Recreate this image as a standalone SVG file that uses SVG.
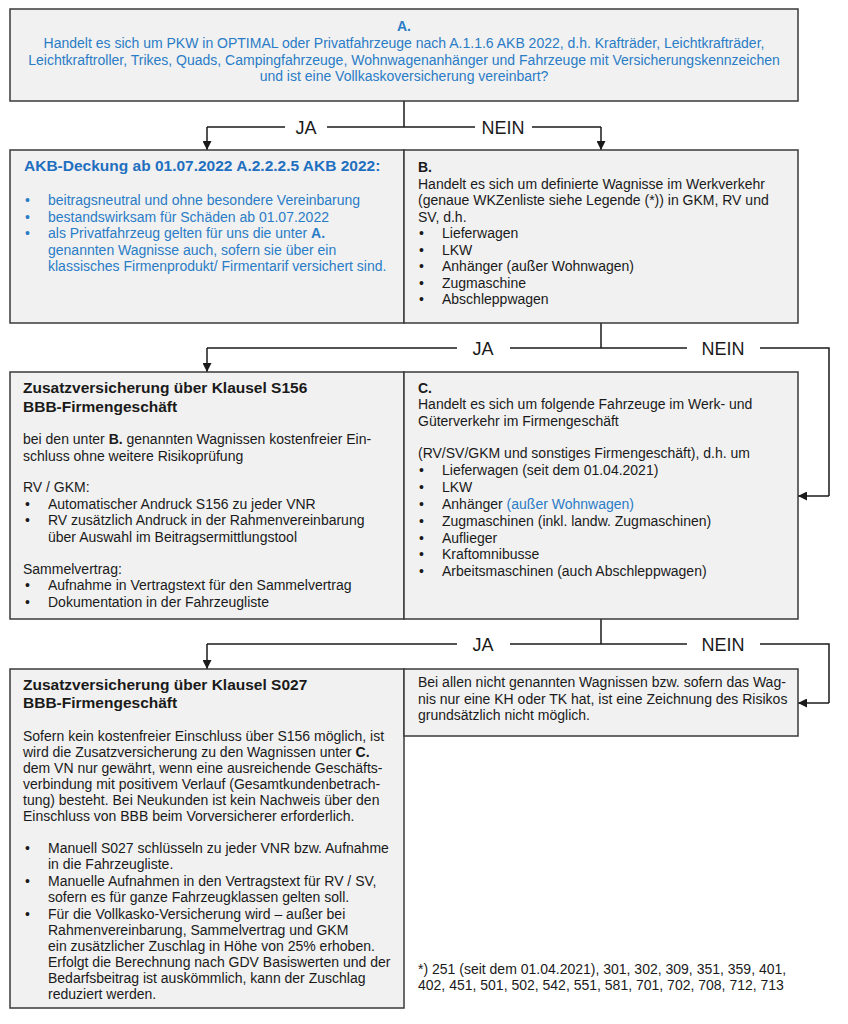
<svg xmlns="http://www.w3.org/2000/svg" width="848" height="1024" viewBox="0 0 848 1024">
<style>
.box{fill:#f1f1f1;stroke:#3a3a3a;stroke-width:1.5}
text{font-family:"Liberation Sans",Arial,sans-serif;font-size:14px;fill:#1a1a1a}
.blue{fill:#2a7cc6}
.hb{font-weight:bold;font-size:15.5px}
.b{font-weight:bold}
.lbl{font-size:18px}
.con{fill:none;stroke:#1a1a1a;stroke-width:1.5}
</style>
<defs>
<marker id="ah" viewBox="0 0 10 10" refX="10" refY="5" markerWidth="9" markerHeight="9" markerUnits="userSpaceOnUse" orient="auto">
<path d="M0,0 L10,5 L0,10 Z" fill="#1a1a1a"/>
</marker>
</defs>
<rect width="848" height="1024" fill="#ffffff"/>

<g id="connectors">
<path class="con" d="M404,101 V127"/>
<path class="con" d="M207,127 H285 M327,127 H475 M532,127 H601"/>
<path class="con" d="M207,127 V150" marker-end="url(#ah)"/>
<path class="con" d="M601,127 V150" marker-end="url(#ah)"/>
<text class="lbl" x="306" y="134" text-anchor="middle">JA</text>
<text class="lbl" x="503" y="134" text-anchor="middle">NEIN</text>

<path class="con" d="M601,323 V348"/>
<path class="con" d="M207,348 H457 M510,348 H687 M760,348 H829 V496"/>
<path class="con" d="M207,348 V372" marker-end="url(#ah)"/>
<path class="con" d="M829,496 H798" marker-end="url(#ah)"/>
<text class="lbl" x="483" y="355" text-anchor="middle">JA</text>
<text class="lbl" x="723" y="355" text-anchor="middle">NEIN</text>

<path class="con" d="M601,619 V644"/>
<path class="con" d="M207,644 H457 M510,644 H687 M760,644 H829 V703"/>
<path class="con" d="M207,644 V669" marker-end="url(#ah)"/>
<path class="con" d="M829,703 H798" marker-end="url(#ah)"/>
<text class="lbl" x="483" y="651" text-anchor="middle">JA</text>
<text class="lbl" x="723" y="651" text-anchor="middle">NEIN</text>
</g>

<g id="nodeA">
<rect class="box" x="10" y="9" width="788" height="92"/>
<text class="blue b" x="404" y="31" text-anchor="middle">A.</text>
<text class="blue" x="404" y="48" text-anchor="middle">Handelt es sich um PKW in OPTIMAL oder Privatfahrzeuge nach A.1.1.6 AKB 2022, d.h. Krafträder, Leichtkrafträder,</text>
<text class="blue" x="404" y="64.5" text-anchor="middle">Leichtkraftroller, Trikes, Quads, Campingfahrzeuge, Wohnwagenanhänger und Fahrzeuge mit Versicherungskennzeichen</text>
<text class="blue" x="404" y="81" text-anchor="middle">und ist eine Vollkaskoversicherung vereinbart?</text>
</g>

<g id="nodeAKB">
<rect class="box" x="10" y="150" width="394" height="173"/>
<text class="blue hb" x="24" y="171" style="fill:#1f6fc0">AKB-Deckung ab 01.07.2022 A.2.2.2.5 AKB 2022:</text>
<text class="blue" x="25" y="205">•</text><text class="blue" x="48" y="205">beitragsneutral und ohne besondere Vereinbarung</text>
<text class="blue" x="25" y="221.5">•</text><text class="blue" x="48" y="221.5">bestandswirksam für Schäden ab 01.07.2022</text>
<text class="blue" x="25" y="238">•</text><text class="blue" x="48" y="238">als Privatfahrzeug gelten für uns die unter <tspan class="b">A.</tspan></text>
<text class="blue" x="48" y="254.5">genannten Wagnisse auch, sofern sie über ein</text>
<text class="blue" x="48" y="271">klassisches Firmenprodukt/ Firmentarif versichert sind.</text>
</g>

<g id="nodeB">
<rect class="box" x="404" y="150" width="394" height="173"/>
<text class="b" x="418" y="172">B.</text>
<text x="418" y="188.5">Handelt es sich um definierte Wagnisse im Werkverkehr</text>
<text x="418" y="205">(genaue WKZenliste siehe Legende (*)) in GKM, RV und</text>
<text x="418" y="221.5">SV, d.h.</text>
<text x="419" y="238">•</text><text x="442" y="238">Lieferwagen</text>
<text x="419" y="254.5">•</text><text x="442" y="254.5">LKW</text>
<text x="419" y="271">•</text><text x="442" y="271">Anhänger (außer Wohnwagen)</text>
<text x="419" y="287.5">•</text><text x="442" y="287.5">Zugmaschine</text>
<text x="419" y="304">•</text><text x="442" y="304">Abschleppwagen</text>
</g>

<g id="nodeS156">
<rect class="box" x="10" y="372" width="394" height="247"/>
<text class="hb" x="23" y="393">Zusatzversicherung über Klausel S156</text>
<text class="hb" x="23" y="412">BBB-Firmengeschäft</text>
<text x="23" y="444">bei den unter <tspan class="b">B.</tspan> genannten Wagnissen kostenfreier Ein-</text>
<text x="23" y="460.5">schluss ohne weitere Risikoprüfung</text>
<text x="23" y="492">RV / GKM:</text>
<text x="25" y="508.5">•</text><text x="48" y="508.5">Automatischer Andruck S156 zu jeder VNR</text>
<text x="25" y="525">•</text><text x="48" y="525">RV zusätzlich Andruck in der Rahmenvereinbarung</text>
<text x="48" y="541.5">über Auswahl im Beitragsermittlungstool</text>
<text x="23" y="573.5">Sammelvertrag:</text>
<text x="25" y="590">•</text><text x="48" y="590">Aufnahme in Vertragstext für den Sammelvertrag</text>
<text x="25" y="606.5">•</text><text x="48" y="606.5">Dokumentation in der Fahrzeugliste</text>
</g>

<g id="nodeC">
<rect class="box" x="404" y="372" width="394" height="247"/>
<text class="b" x="418" y="393">C.</text>
<text x="418" y="409">Handelt es sich um folgende Fahrzeuge im Werk- und</text>
<text x="418" y="425.5">Güterverkehr im Firmengeschäft</text>
<text x="418" y="458">(RV/SV/GKM und sonstiges Firmengeschäft), d.h. um</text>
<text x="419" y="474.5">•</text><text x="442" y="474.5">Lieferwagen (seit dem 01.04.2021)</text>
<text x="419" y="491.5">•</text><text x="442" y="491.5">LKW</text>
<text x="419" y="508.5">•</text><text x="442" y="508.5">Anhänger <tspan class="blue">(außer Wohnwagen)</tspan></text>
<text x="419" y="525.5">•</text><text x="442" y="525.5">Zugmaschinen (inkl. landw. Zugmaschinen)</text>
<text x="419" y="542.5">•</text><text x="442" y="542.5">Auflieger</text>
<text x="419" y="559">•</text><text x="442" y="559">Kraftomnibusse</text>
<text x="419" y="576">•</text><text x="442" y="576">Arbeitsmaschinen (auch Abschleppwagen)</text>
</g>

<g id="nodeS027">
<rect class="box" x="10" y="669" width="394" height="339"/>
<text class="hb" x="23" y="690">Zusatzversicherung über Klausel S027</text>
<text class="hb" x="23" y="708">BBB-Firmengeschäft</text>
<text x="23" y="741">Sofern kein kostenfreier Einschluss über S156 möglich, ist</text>
<text x="23" y="757">wird die Zusatzversicherung zu den Wagnissen unter <tspan class="b">C.</tspan></text>
<text x="23" y="773">dem VN nur gewährt, wenn eine ausreichende Geschäfts-</text>
<text x="23" y="789">verbindung mit positivem Verlauf (Gesamtkundenbetrach-</text>
<text x="23" y="805">tung) besteht. Bei Neukunden ist kein Nachweis über den</text>
<text x="23" y="821">Einschluss von BBB beim Vorversicherer erforderlich.</text>
<text x="25" y="853">•</text><text x="48" y="853">Manuell S027 schlüsseln zu jeder VNR bzw. Aufnahme</text>
<text x="48" y="869">in die Fahrzeugliste.</text>
<text x="25" y="886">•</text><text x="48" y="886">Manuelle Aufnahmen in den Vertragstext für RV / SV,</text>
<text x="48" y="902">sofern es für ganze Fahrzeugklassen gelten soll.</text>
<text x="25" y="918.5">•</text><text x="48" y="918.5">Für die Vollkasko-Versicherung wird – außer bei</text>
<text x="48" y="934.5">Rahmenvereinbarung, Sammelvertrag und GKM</text>
<text x="48" y="950.5">ein zusätzlicher Zuschlag in Höhe von 25% erhoben.</text>
<text x="48" y="966.5">Erfolgt die Berechnung nach GDV Basiswerten und der</text>
<text x="48" y="982.5">Bedarfsbeitrag ist auskömmlich, kann der Zuschlag</text>
<text x="48" y="998.5">reduziert werden.</text>
</g>

<g id="nodeReject">
<rect class="box" x="404" y="669" width="394" height="67"/>
<text x="418" y="687">Bei allen nicht genannten Wagnissen bzw. sofern das Wag-</text>
<text x="418" y="703.5">nis nur eine KH oder TK hat, ist eine Zeichnung des Risikos</text>
<text x="418" y="720">grundsätzlich nicht möglich.</text>
</g>

<g id="footnote">
<text x="418" y="974">*) 251 (seit dem 01.04.2021), 301, 302, 309, 351, 359, 401,</text>
<text x="418" y="990">402, 451, 501, 502, 542, 551, 581, 701, 702, 708, 712, 713</text>
</g>
</svg>
